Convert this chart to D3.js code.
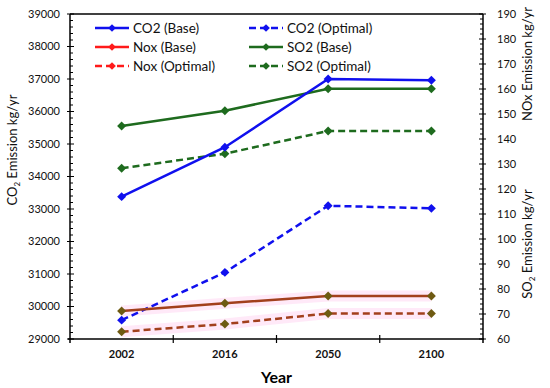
<!DOCTYPE html>
<html><head><meta charset="utf-8">
<script src="https://cdn.jsdelivr.net/npm/d3@7/dist/d3.min.js"></script>
<style>body{margin:0;background:#fff}svg{display:block;font-family:Lato,"Open Sans",sans-serif}</style>
</head><body><svg id="c" width="550" height="388"></svg>
<script>
const years = ["2002","2016","2050","2100"];
const co2Base = [33380, 34900, 37000, 36960];
const co2Opt = [29580, 31050, 33100, 33020];
const noxBase = [71.2, 74.3, 77.2, 77.2];
const noxOpt = [62.9, 66.0, 70.2, 70.2];
const so2Base = [145.2, 151.3, 160.1, 160.1];
const so2Opt = [128.3, 134.1, 143.2, 143.2];
const leftTicks = [29000,30000,31000,32000,33000,34000,35000,36000,37000,38000,39000];
const rightTicks = [60,70,80,90,100,110,120,130,140,150,160,170,180,190];

const svg = d3.select("#c");
const L = 70, R = 483, T = 14, B = 339;
const x = d3.scalePoint().domain(years).range([L, R]).padding(0.5);
const yL = d3.scaleLinear().domain([29000, 39000]).range([B, T]);
const yR = d3.scaleLinear().domain([60, 190]).range([B, T]);

const blue = "#1010ee", green = "#1e6b1e", red = "#ff1a1a", brown = "#a2401c", olive = "#6e5a12";

svg.append("line").attr("x1", L).attr("x2", R).attr("y1", T).attr("y2", T).attr("stroke", "#000").attr("stroke-width", 1.5);

const gl = svg.append("g").attr("transform", `translate(${L},0)`);
gl.append("line").attr("y1", T).attr("y2", B + 4).attr("stroke", "#000").attr("stroke-width", 1.5);
d3.range(29000, 39001, 200).forEach(v => {
  const major = v % 1000 === 0;
  gl.append("line").attr("x1", major ? -3 : 0).attr("x2", major ? 4 : 3)
    .attr("y1", yL(v)).attr("y2", yL(v)).attr("stroke", "#000").attr("stroke-width", 1);
});
leftTicks.forEach(v => gl.append("text").attr("x", -10).attr("y", yL(v)).attr("dy", "0.35em")
  .attr("text-anchor", "end").attr("font-size", 11).attr("fill", "#111").text(v));

const gr = svg.append("g").attr("transform", `translate(${R},0)`);
gr.append("line").attr("y1", T).attr("y2", B + 4).attr("stroke", "#000").attr("stroke-width", 1.5);
d3.range(60, 191, 2).forEach(v => {
  const major = v % 10 === 0;
  gr.append("line").attr("x1", major ? -4 : -3).attr("x2", major ? 3 : 0)
    .attr("y1", yR(v)).attr("y2", yR(v)).attr("stroke", "#000").attr("stroke-width", 1);
});
rightTicks.forEach(v => gr.append("text").attr("x", 14).attr("y", yR(v)).attr("dy", "0.35em")
  .attr("text-anchor", "start").attr("font-size", 11).attr("fill", "#111").text(v));

svg.append("line").attr("x1", L - 2).attr("x2", R + 1).attr("y1", B).attr("y2", B).attr("stroke", "#000").attr("stroke-width", 1.5);
const step = x.step();
for (let i = 1; i < years.length; i++) {
  const xx = x(years[0]) - step / 2 + i * step;
  svg.append("line").attr("x1", xx).attr("x2", xx).attr("y1", B - 4).attr("y2", B + 4).attr("stroke", "#000").attr("stroke-width", 1.2);
}
years.forEach(yv => svg.append("text").attr("x", x(yv)).attr("y", B + 19).attr("text-anchor", "middle")
  .attr("font-size", 11).attr("font-weight", "bold").attr("fill", "#111").text(yv));

svg.append("text").attr("x", (L + R) / 2).attr("y", 383).attr("text-anchor", "middle")
  .attr("font-size", 16).attr("font-weight", "bold").text("Year");
function vtitle(xp, yp, parts) {
  const t = svg.append("text").attr("transform", `translate(${xp},${yp}) rotate(-90)`).attr("text-anchor", "middle").attr("font-size", 13).attr("fill", "#111");
  parts.forEach(p => {
    const s = t.append("tspan").text(p[0]);
    if (p[1]) s.attr("font-size", 8).attr("dy", 3);
    else if (p[2]) s.attr("dy", -3);
  });
}
vtitle(17, 150, [["CO"], ["2", true], [" Emission kg/yr", false, true]]);
vtitle(532, 64, [["NOx Emission kg/yr"]]);
vtitle(532, 244, [["SO"], ["2", true], [" Emission kg/yr", false, true]]);

[noxBase, noxOpt].forEach(d => {
  svg.append("path").datum(d).attr("fill", "none").attr("stroke", "#ffc8ee").attr("stroke-opacity", 0.4)
    .attr("stroke-width", 11).attr("d", d3.line().x((v, i) => x(years[i])).y(v => yR(v)));
});

function series(data, scale, color, mcolor, dashed) {
  svg.append("path").datum(data).attr("fill", "none").attr("stroke", color).attr("stroke-width", 2.5)
    .attr("stroke-dasharray", dashed ? "7,4" : null)
    .attr("d", d3.line().x((v, i) => x(years[i])).y(v => scale(v)));
  svg.selectAll(null).data(data).enter().append("path")
    .attr("transform", (v, i) => `translate(${x(years[i])},${scale(v)}) rotate(45)`)
    .attr("d", d3.symbol().type(d3.symbolSquare).size(40)).attr("fill", mcolor);
}
series(so2Base, yR, green, green, false);
series(so2Opt, yR, green, green, true);
series(co2Base, yL, blue, blue, false);
series(co2Opt, yL, blue, blue, true);
series(noxBase, yR, brown, olive, false);
series(noxOpt, yR, brown, olive, true);

const legend = [
  ["CO2 (Base)", blue, false, 95, 28], ["CO2 (Optimal)", blue, true, 249, 28],
  ["Nox (Base)", red, false, 95, 47], ["SO2 (Base)", green, false, 249, 47],
  ["Nox (Optimal)", red, true, 95, 66], ["SO2 (Optimal)", green, true, 249, 66]
];
legend.forEach(([name, c, dashed, lx, ly]) => {
  svg.append("line").attr("x1", lx).attr("x2", lx + 34).attr("y1", ly).attr("y2", ly).attr("stroke", c)
    .attr("stroke-width", 2.5).attr("stroke-dasharray", dashed ? "7,4" : null);
  svg.append("path").attr("transform", `translate(${lx + 17},${ly}) rotate(45)`).attr("d", d3.symbol().type(d3.symbolSquare).size(30)).attr("fill", c);
  svg.append("text").attr("x", lx + 38).attr("y", ly).attr("dy", "0.35em").attr("font-size", 13.5).attr("fill", "#111").text(name);
});
</script></body></html>
